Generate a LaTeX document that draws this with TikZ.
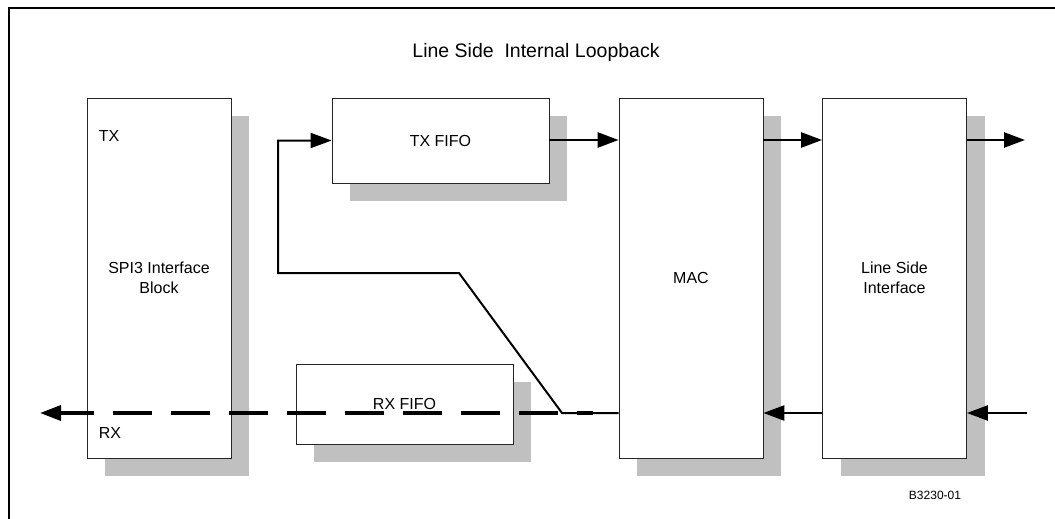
\documentclass[tikz,border=0pt]{standalone}
\usepackage{fontspec}
\setmainfont{Liberation Sans}
\usetikzlibrary{arrows.meta,shadows}
\definecolor{shade}{RGB}{192,192,192}

\begin{document}
\begin{tikzpicture}[x=1pt,y=-1pt,>={Triangle[length=21pt,width=15pt]}]
   \useasboundingbox (0,0) rectangle (1055,519);
   \draw[line width=2pt] (9,519) -- (9,8) -- (1055,8);
   \fontsize{16}{20}\selectfont
   \tikzstyle{main}=[rectangle, draw=black!85, line width=0.8pt, fill=white, inner sep=0pt, align=center, minimum width=144pt, minimum height=360pt, drop shadow={shadow xshift=18pt, shadow yshift=-18pt, fill=shade, opacity=1}]
   \tikzstyle{fifo}=[main, minimum width=217pt, minimum height=85pt]
   \tikzstyle{wire}=[->, line width=2.5pt]
   \node (title) at (536,52) {\fontsize{19.5}{24}\selectfont Line Side\ \ Internal Loopback};
   \foreach \name/\x/\txt in {spi/159/{SPI3 Interface\\Block},mac/691/{MAC},lineside/894.5/{Line Side\\Interface}} {
       \node[main] (\name) at (\x,278) {\txt};
   }
   \node[fifo] (txfifo) at (440.5,140.5) {TX FIFO};
   \node[fifo, minimum height=80pt] (rxfifo) at (404.5,404) {RX FIFO};
   \node (txlabel) at (109,136) {TX};
   \node (rxlabel) at (110,433) {RX};
   \node (figid) at (935,495) {\fontsize{12}{14}\selectfont B3230-01};
   % rows and free ends
   \coordinate (txrow) at (0,140);
   \coordinate (rxrow) at (0,413);
   \coordinate (txout) at (1025,140);
   \coordinate (rxin) at (1027,413);
   \coordinate (rxout) at (40,413);
   \coordinate (dashend) at (593,413);
   \coordinate (kneelow) at (562,413);
   \coordinate (kneehigh) at (459,273);
   \coordinate (loopleft) at (278,273);
   \draw[wire] (txfifo.east |- txrow) -- (mac.west |- txrow);
   \draw[wire] (mac.east |- txrow) -- (lineside.west |- txrow);
   \draw[wire] (lineside.east |- txrow) -- (txout);
   \draw[wire] (rxin) -- (lineside.east |- rxrow);
   \draw[wire] (lineside.west |- rxrow) -- (mac.east |- rxrow);
   \draw[wire, <-, line width=3.5pt, dash pattern=on 38.5pt off 19.5pt, dash phase=5pt] (rxout) -- (dashend);
   % loopback path
   \draw[->, line width=2pt] (mac.west |- rxrow) -- (kneelow) -- (kneehigh) -- (loopleft) |- (txfifo.west);
\end{tikzpicture}
\end{document}
